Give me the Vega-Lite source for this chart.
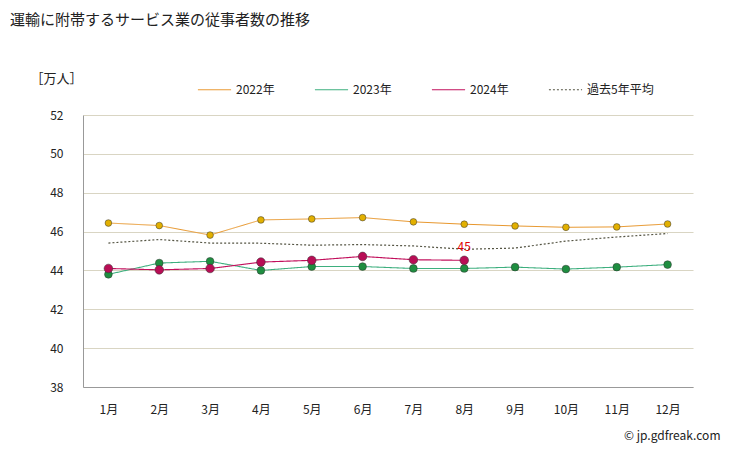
{
  "$schema": "https://vega.github.io/schema/vega-lite/v6.json",
  "width": 610,
  "height": 272,
  "autosize": "none",
  "padding": {"left": 83, "top": 115, "right": 36, "bottom": 64},
  "background": "white",
  "title": {
    "text": "運輸に附帯するサービス業の従事者数の推移",
    "anchor": "start",
    "frame": "group",
    "orient": "top",
    "dx": -73,
    "offset": 44,
    "fontSize": 15,
    "fontWeight": "normal",
    "font": "Noto Sans CJK JP",
    "color": "#222222"
  },
  "config": {
    "view": {"stroke": null},
    "font": "Noto Sans CJK JP",
    "axis": {"labelFont": "Noto Sans CJK JP", "titleFont": "Noto Sans CJK JP"}
  },
  "data": {
    "values": [
      {"month": "1月", "series": "2022年", "value": 46.44},
      {"month": "2月", "series": "2022年", "value": 46.31},
      {"month": "3月", "series": "2022年", "value": 45.82},
      {"month": "4月", "series": "2022年", "value": 46.6},
      {"month": "5月", "series": "2022年", "value": 46.65},
      {"month": "6月", "series": "2022年", "value": 46.72},
      {"month": "7月", "series": "2022年", "value": 46.5},
      {"month": "8月", "series": "2022年", "value": 46.38},
      {"month": "9月", "series": "2022年", "value": 46.29},
      {"month": "10月", "series": "2022年", "value": 46.22},
      {"month": "11月", "series": "2022年", "value": 46.24},
      {"month": "12月", "series": "2022年", "value": 46.39},
      {"month": "1月", "series": "2023年", "value": 43.8},
      {"month": "2月", "series": "2023年", "value": 44.38},
      {"month": "3月", "series": "2023年", "value": 44.47},
      {"month": "4月", "series": "2023年", "value": 44.0},
      {"month": "5月", "series": "2023年", "value": 44.2},
      {"month": "6月", "series": "2023年", "value": 44.2},
      {"month": "7月", "series": "2023年", "value": 44.1},
      {"month": "8月", "series": "2023年", "value": 44.1},
      {"month": "9月", "series": "2023年", "value": 44.17},
      {"month": "10月", "series": "2023年", "value": 44.07},
      {"month": "11月", "series": "2023年", "value": 44.17},
      {"month": "12月", "series": "2023年", "value": 44.3},
      {"month": "1月", "series": "2024年", "value": 44.1},
      {"month": "2月", "series": "2024年", "value": 44.03},
      {"month": "3月", "series": "2024年", "value": 44.1},
      {"month": "4月", "series": "2024年", "value": 44.43},
      {"month": "5月", "series": "2024年", "value": 44.52},
      {"month": "6月", "series": "2024年", "value": 44.72},
      {"month": "7月", "series": "2024年", "value": 44.55},
      {"month": "8月", "series": "2024年", "value": 44.52, "label": "45"},
      {"month": "1月", "series": "過去5年平均", "value": 45.41},
      {"month": "2月", "series": "過去5年平均", "value": 45.59},
      {"month": "3月", "series": "過去5年平均", "value": 45.41},
      {"month": "4月", "series": "過去5年平均", "value": 45.4},
      {"month": "5月", "series": "過去5年平均", "value": 45.3},
      {"month": "6月", "series": "過去5年平均", "value": 45.33},
      {"month": "7月", "series": "過去5年平均", "value": 45.26},
      {"month": "8月", "series": "過去5年平均", "value": 45.09},
      {"month": "9月", "series": "過去5年平均", "value": 45.15},
      {"month": "10月", "series": "過去5年平均", "value": 45.51},
      {"month": "11月", "series": "過去5年平均", "value": 45.72},
      {"month": "12月", "series": "過去5年平均", "value": 45.9}
    ]
  },
  "encoding": {
    "x": {
      "field": "month",
      "type": "ordinal",
      "sort": ["1月","2月","3月","4月","5月","6月","7月","8月","9月","10月","11月","12月"],
      "scale": {"type": "point", "padding": 0.5},
      "axis": {
        "labelAngle": 0,
        "ticks": false,
        "grid": false,
        "domainColor": "#999999",
        "labelPadding": 17,
        "labelFontSize": 12,
        "labelColor": "#222222",
        "title": "© jp.gdfreak.com",
        "titleX": 637,
        "titleY": 48,
        "titleAlign": "right",
        "titleBaseline": "middle",
        "titleFontSize": 12,
        "titleFontWeight": "normal",
        "titleColor": "#222222"
      }
    },
    "y": {
      "field": "value",
      "type": "quantitative",
      "scale": {"domain": [38, 52], "nice": false, "zero": false},
      "axis": {
        "values": [38, 40, 42, 44, 46, 48, 50, 52],
        "ticks": false,
        "gridColor": "#D9D5C3",
        "domainColor": "#999999",
        "labelPadding": 20,
        "labelFontSize": 12,
        "labelColor": "#222222",
        "title": "［万人］",
        "titleAngle": 0,
        "titleX": -53,
        "titleY": -37,
        "titleAlign": "left",
        "titleBaseline": "middle",
        "titleFontSize": 13,
        "titleFontWeight": "normal",
        "titleColor": "#222222"
      }
    }
  },
  "layer": [
    {
      "mark": {"type": "line"},
      "encoding": {
        "color": {
          "field": "series",
          "type": "nominal",
          "scale": {"domain": ["2022年","2023年","2024年","過去5年平均"], "range": ["#E8962A","#3DAF7E","#C2105C","#555544"]},
          "legend": {
            "title": null,
            "orient": "none",
            "legendX": 114,
            "legendY": -43,
            "direction": "horizontal",
            "columns": 4,
            "symbolType": "stroke",
            "symbolSize": 1100,
            "labelFontSize": 12,
            "labelColor": "#222222",
            "labelOffset": 4,
            "columnPadding": 37
          }
        },
        "strokeDash": {
          "field": "series",
          "type": "nominal",
          "scale": {"domain": ["2022年","2023年","2024年","過去5年平均"], "range": [[1,0],[1,0],[1,0],[2,2]]},
          "legend": null
        },
        "strokeWidth": {
          "field": "series",
          "type": "nominal",
          "scale": {"domain": ["2022年","2023年","2024年","過去5年平均"], "range": [1,1.2,2,2]},
          "legend": null
        }
      }
    },
    {
      "transform": [{"filter": "datum.series !== '過去5年平均'"}],
      "mark": {"type": "circle", "opacity": 1, "stroke": "#333333", "strokeWidth": 0.5},
      "encoding": {
        "fill": {
          "field": "series",
          "type": "nominal",
          "scale": {"domain": ["2022年","2023年","2024年"], "range": ["#E2B000","#1E8E40","#B80D55"]},
          "legend": null
        },
        "size": {
          "field": "series",
          "type": "nominal",
          "scale": {"domain": ["2022年","2023年","2024年"], "range": [45, 75, 100]},
          "legend": null
        }
      }
    },
    {
      "transform": [{"filter": "datum.label != null"}],
      "mark": {"type": "text", "dy": -13, "color": "#E00000", "fontSize": 12},
      "encoding": {"text": {"field": "label"}}
    }
  ]
}
